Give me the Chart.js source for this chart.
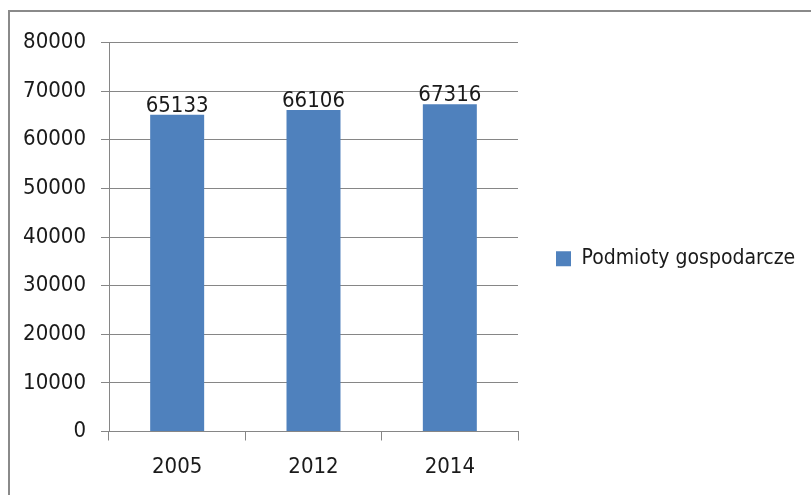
<!DOCTYPE html>
<html>
<head>
<meta charset="utf-8">
<script src="https://cdn.jsdelivr.net/npm/chart.js@4/dist/chart.umd.min.js"></script>
<style>
  html, body { margin: 0; padding: 0; background: #fff; width: 811px; height: 495px; overflow: hidden; }
  #frame { position: absolute; left: 8px; top: 10px; width: 900px; height: 600px;
           border-top: 2px solid #8a8a8a; border-left: 2px solid #8a8a8a; box-sizing: border-box; }
  #wrap { position: absolute; left: 0; top: 0; width: 811px; height: 495px; }
</style>
</head>
<body>
<div id="frame"></div>
<div id="wrap"><canvas id="c" width="811" height="495"></canvas></div>
<script>
const categories = ['2005', '2012', '2014'];
const seriesName = 'Podmioty gospodarcze';
const seriesValues = [65133, 66106, 67316];
const yTicks = [0, 10000, 20000, 30000, 40000, 50000, 60000, 70000, 80000];

const FONT = "'DejaVu Sans Condensed', 'DejaVu Sans', sans-serif";
const GRID = '#868686';

const valueLabels = {
  id: 'valueLabels',
  afterDatasetsDraw(chart) {
    const ctx = chart.ctx;
    ctx.save();
    ctx.font = "22px " + FONT;
    ctx.fillStyle = '#1a1a1a';
    ctx.textAlign = 'center';
    ctx.textBaseline = 'alphabetic';
    chart.data.datasets.forEach((ds, di) => {
      chart.getDatasetMeta(di).data.forEach((bar, i) => {
        ctx.fillText(String(ds.data[i]), bar.x, bar.y - 3);
      });
    });
    ctx.restore();
  }
};

const legendFix = {
  id: 'legendFix',
  beforeLayout(chart) {
    const lg = chart.legend;
    if (lg && !lg._patched) {
      const f = lg.fit.bind(lg);
      lg.fit = function () { f(); this.width = 293; };
      lg._patched = true;
    }
  },
  afterLayout(chart) {
    const lg = chart.legend;
    if (lg) { lg.top -= 10; lg.bottom -= 10; }
  }
};

new Chart(document.getElementById('c'), {
  type: 'bar',
  data: {
    labels: categories,
    datasets: [{
      label: seriesName,
      data: seriesValues,
      backgroundColor: '#4F81BD',
      borderWidth: 0,
      categoryPercentage: 1,
      barPercentage: 0.396
    }]
  },
  options: {
    responsive: false,
    animation: false,
    layout: { padding: { top: 42.5, left: 0, right: 0, bottom: 0 } },
    plugins: {
      tooltip: { enabled: false },
      legend: {
        position: 'right',
        labels: {
          boxWidth: 15, boxHeight: 15, padding: 38,
          color: '#1a1a1a',
          font: { family: FONT, size: 21 }
        }
      }
    },
    scales: {
      x: {
        afterFit(s) { s.height = 63.5; },
        grid: { offset: true, drawOnChartArea: false, drawTicks: true, tickLength: 9, color: GRID },
        border: { display: true, color: GRID },
        ticks: { color: '#1a1a1a', padding: 14, font: { family: FONT, size: 22 } }
      },
      y: {
        min: 0, max: 80000,
        afterFit(s) { s.width = 109; },
        afterBuildTicks(s) { s.ticks = yTicks.map(v => ({ value: v })); },
        grid: { color: GRID, tickLength: 8 },
        border: { display: true, color: GRID },
        ticks: { color: '#1a1a1a', padding: 15, font: { family: FONT, size: 22 },
                 callback: (v) => String(v) }
      }
    }
  },
  plugins: [valueLabels, legendFix]
});
</script>
</body>
</html>
